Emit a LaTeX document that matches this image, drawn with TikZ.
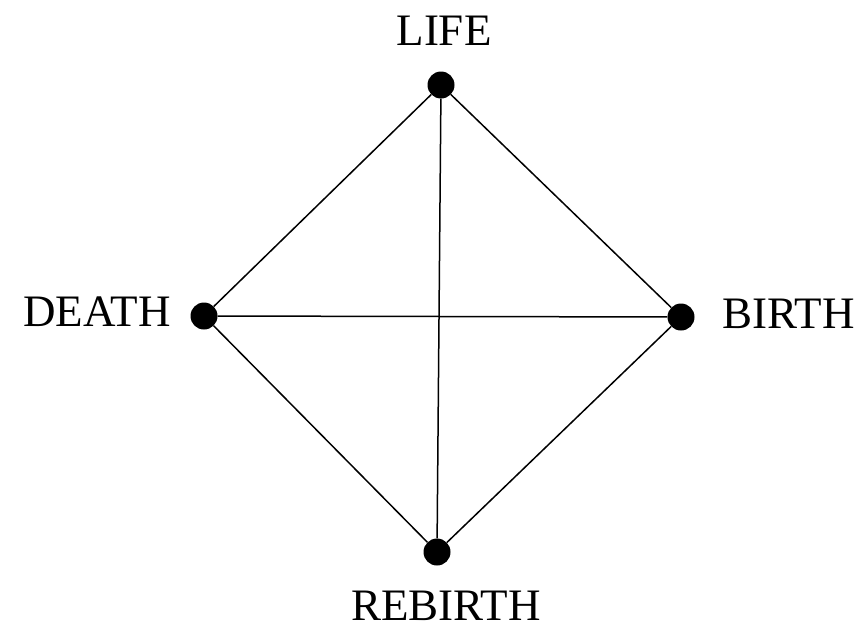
\documentclass[tikz,border=0pt]{standalone}
\usepackage{fontspec}
\setmainfont{Liberation Serif}
\usetikzlibrary{positioning}
\newcommand{\stage}[3]{\node[dot] (#1) at (#2,#3) {};}

\begin{document}
\begin{tikzpicture}[x=1pt,y=-1pt,
  dot/.style={circle,fill=black,minimum size=27pt,inner sep=0pt},
  word/.style={inner sep=0pt,font=\fontsize{45}{48}\selectfont},
  edge/.style={line width=1.5pt}]
  \useasboundingbox (0,0) rectangle (861,629);
  \stage{life}{441}{85}
  \stage{death}{204}{316}
  \stage{birth}{681}{317}
  \stage{rebirth}{437}{552}
  \node[word,anchor=base] (lifelabel) at (444,45) {LIFE};
  \node[word,anchor=base east] (deathlabel) at (171,326) {DEATH};
  \node[word,anchor=base west] (birthlabel) at (722,328) {BIRTH};
  \node[word,anchor=base] (rebirthlabel) at (446,620) {REBIRTH};
  \draw[edge] (life) -- (death);
  \draw[edge] (life) -- (birth);
  \draw[edge] (death) -- (rebirth);
  \draw[edge] (birth) -- (rebirth);
  \draw[edge] (life) -- (rebirth);
  \draw[edge] (death) -- (birth);
\end{tikzpicture}
\end{document}
